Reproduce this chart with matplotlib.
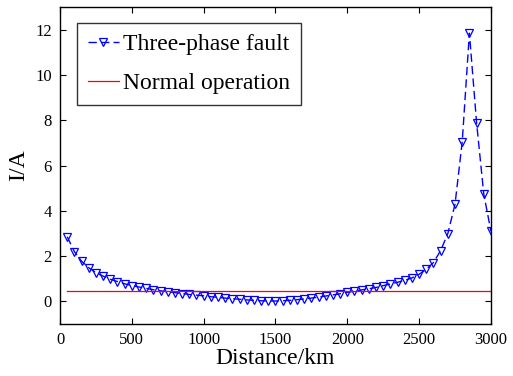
import matplotlib
matplotlib.use("Agg")
import matplotlib.pyplot as plt

distance_km = [50, 100, 150, 200, 250, 300, 350, 400, 450, 500,
               550, 600, 650, 700, 750, 800, 850, 900, 950, 1000,
               1050, 1100, 1150, 1200, 1250, 1300, 1350, 1400, 1450, 1500,
               1550, 1600, 1650, 1700, 1750, 1800, 1850, 1900, 1950, 2000,
               2050, 2100, 2150, 2200, 2250, 2300, 2350, 2400, 2450, 2500,
               2550, 2600, 2650, 2700, 2750, 2800, 2850, 2900, 2950, 3000]
fault_current = [2.86, 2.20, 1.78, 1.49, 1.27, 1.12, 0.98, 0.88, 0.78, 0.70,
                 0.64, 0.58, 0.52, 0.47, 0.43, 0.39, 0.35, 0.31, 0.28, 0.25,
                 0.21, 0.18, 0.15, 0.12, 0.10, 0.07, 0.05, 0.03, 0.02, 0.02,
                 0.03, 0.05, 0.08, 0.11, 0.15, 0.19, 0.24, 0.29, 0.34, 0.40,
                 0.46, 0.51, 0.56, 0.62, 0.70, 0.77, 0.85, 0.93, 1.04, 1.20,
                 1.42, 1.72, 2.25, 3.00, 4.30, 7.05, 11.85, 7.90, 4.75, 3.10]
normal_x = [50, 3000]
normal_current = [0.48, 0.48]

xticks = [0, 500, 1000, 1500, 2000, 2500, 3000]
yticks = [0, 2, 4, 6, 8, 10, 12]

plt.rcParams['font.family'] = ['Liberation Serif', 'DejaVu Serif']

fig = plt.figure(figsize=(5.13, 3.76), dpi=100)
ax = fig.add_axes([0.117, 0.138, 0.840, 0.843])

ax.plot(distance_km, fault_current, linestyle=(0, (6, 3)), color='blue', linewidth=1.0,
        marker='v', markersize=6, markerfacecolor='none', markeredgecolor='blue',
        markeredgewidth=0.9, label='Three-phase fault')
ax.plot(normal_x, normal_current, color='red', linewidth=0.9, label='Normal operation')

ax.set_xlim(0, 3000)
ax.set_ylim(-1, 13)
ax.set_xticks(xticks)
ax.set_yticks(yticks)
ax.tick_params(direction='in', length=4, width=0.8, top=True, right=True, labelsize=12, pad=6)
for s in ax.spines.values():
    s.set_linewidth(1.0)

ax.set_xlabel('Distance/km', fontsize=17, labelpad=0)
ax.set_ylabel('I/A', fontsize=17, labelpad=4)

leg = ax.legend(loc='upper left', bbox_to_anchor=(0.04, 0.95), fontsize=17, numpoints=1,
                handlelength=1.3, handletextpad=0.2, borderpad=0.45, labelspacing=0.75,
                frameon=True, fancybox=False, borderaxespad=0)
leg.get_frame().set_edgecolor('black')
leg.get_frame().set_linewidth(1.0)

fig.savefig('out.png', dpi=100)
